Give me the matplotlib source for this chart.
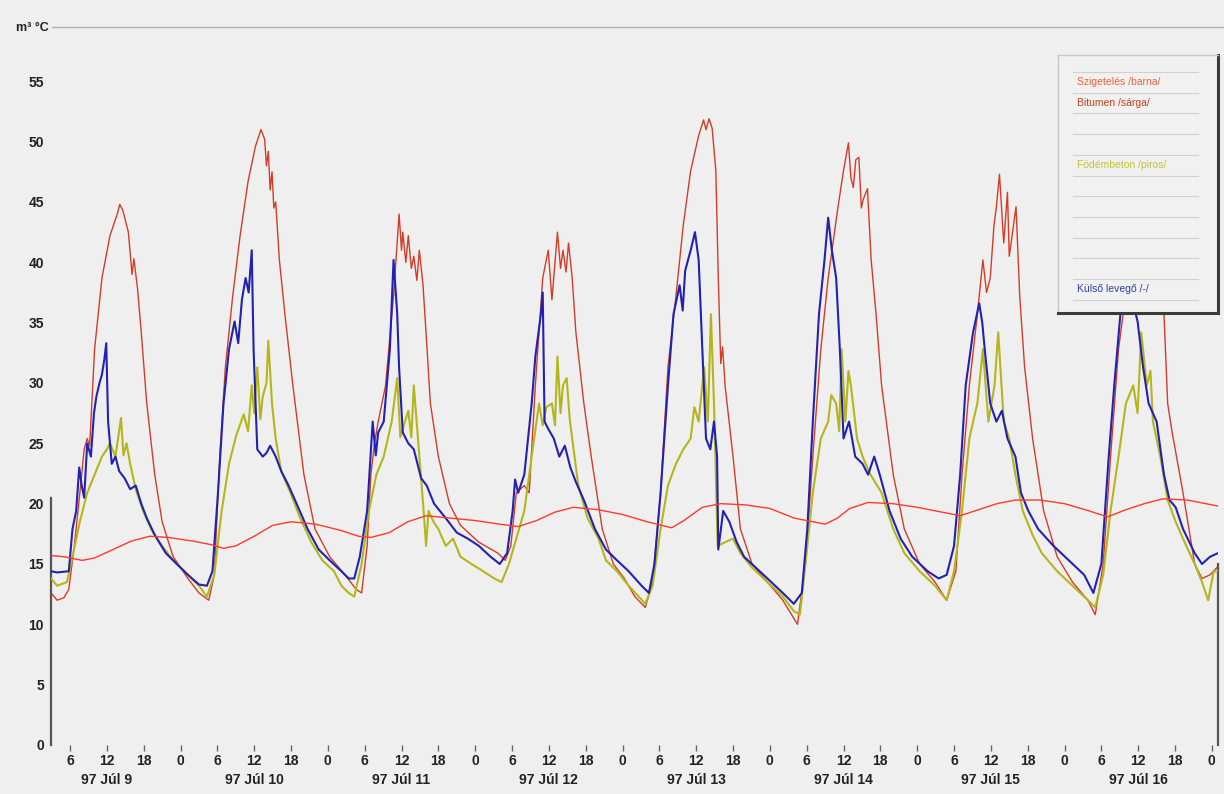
#!/usr/bin/env python3
"""
Roof temperature log, 97 Júl 9 - 97 Júl 16
"""

import matplotlib
matplotlib.use('Agg')
import matplotlib.pyplot as plt
import matplotlib.transforms as mtransforms
from matplotlib.lines import Line2D

plt.rcParams['font.family'] = ['Liberation Sans', 'DejaVu Sans']

# hours counted from 97 Júl 9 0:00
szig_t = [2.9, 5, 8, 10, 13, 16, 19, 22, 26, 29, 31, 33, 36, 39, 42, 46, 50, 53, 55, 58,
          61, 64, 68, 72, 76, 79, 82, 85, 88, 92, 96, 100, 104, 106, 109, 112, 116, 120,
          124, 129, 131, 133, 136, 140, 144, 148, 151, 154, 157, 160, 164, 168, 172, 175,
          178, 181, 184, 188, 193]
szig_v = [15.7, 15.6, 15.3, 15.5, 16.2, 16.9, 17.3, 17.2, 16.9, 16.6, 16.3, 16.5, 17.3,
          18.2, 18.5, 18.3, 17.8, 17.3, 17.2, 17.6, 18.5, 19.0, 18.8, 18.6, 18.3, 18.1,
          18.6, 19.3, 19.7, 19.5, 19.1, 18.5, 18.0, 18.6, 19.7, 20.0, 19.9, 19.6, 18.8,
          18.3, 18.8, 19.6, 20.1, 20.0, 19.7, 19.3, 19.0, 19.5, 20.0, 20.3, 20.3, 20.0,
          19.4, 18.9, 19.5, 20.0, 20.4, 20.3, 19.8]

bit_t = [2.9, 3.9, 5.0, 5.8, 6.7, 7.6, 8.3, 8.8, 9.2, 10.0, 11.2, 12.5, 13.7, 14.1, 14.6,
         15.5, 16.1, 16.4, 17.0, 17.6, 18.5, 19.8, 21.0, 22.8, 25.2, 27.0, 28.6, 29.5,
         30.4, 31.3, 32.5, 33.7, 35.0, 36.2, 37.1, 37.7, 38.0, 38.3, 38.6, 38.9, 39.2,
         39.5, 40.1, 41.0, 42.3, 44.1, 45.9, 48.3, 50.8, 52.6, 53.5, 54.4, 55.0, 55.6,
         56.2, 57.4, 58.7, 59.6, 60.0, 60.2, 60.7, 61.1, 61.6, 62.0, 62.5, 62.9, 63.5,
         64.1, 64.7, 66.0, 67.8, 69.6, 72.6, 75.7, 76.9, 77.8, 78.7, 80.0, 80.8, 81.8,
         83.0, 83.9, 84.5, 85.0, 85.4, 85.9, 86.3, 86.8, 87.2, 87.8, 88.4, 89.7, 90.9,
         92.7, 94.5, 96.3, 98.0, 99.7, 100.9, 102.2, 103.4, 104.7, 105.9, 107.1, 108.4,
         109.2, 109.6, 110.1, 110.6, 111.2, 111.6, 112.0, 112.3, 112.7, 114.0, 115.2,
         117.1, 119.6, 122.1, 124.5, 125.8, 127.0, 128.3, 129.5, 131.1, 132.0, 132.8,
         133.2, 133.6, 134.0, 134.5, 134.9, 135.2, 135.9, 136.5, 137.3, 138.2, 140.1,
         141.9, 144.4, 146.9, 148.8, 150.3, 151.3, 152.5, 153.8, 154.7, 155.3, 155.9,
         156.5, 156.9, 157.4, 158.1, 158.7, 159.0, 159.4, 160.1, 160.7, 161.5, 162.8,
         164.6, 166.8, 169.3, 171.8, 173.0, 174.3, 175.5, 176.8, 178.0, 179.0, 180.0,
         181.0, 182.0, 183.0, 184.2, 184.8, 185.5, 187.3, 189.2, 190.4, 191.7, 193.0]
bit_v = [12.6, 12.0, 12.2, 12.9, 16.5, 20.9, 24.5, 25.4, 24.8, 32.8, 38.7, 42.2, 44.0,
         44.8, 44.3, 42.5, 39.0, 40.3, 37.8, 34.2, 28.3, 22.4, 18.5, 15.6, 13.8, 12.6,
         12.0, 14.1, 23.9, 31.3, 37.2, 42.2, 46.7, 49.6, 51.0, 50.2, 48.0, 49.2, 46.0,
         47.5, 44.5, 45.0, 40.2, 35.7, 29.8, 22.4, 17.9, 15.6, 14.1, 12.9, 12.6, 16.5,
         22.4, 25.0, 26.8, 29.8, 37.2, 44.0, 41.0, 42.5, 40.0, 42.2, 39.5, 40.5, 38.5,
         41.0, 38.1, 33.3, 28.3, 23.9, 20.0, 18.2, 16.8, 15.9, 15.3, 16.5, 20.9, 21.5,
         20.9, 29.8, 38.7, 41.0, 36.9, 40.0, 42.5, 39.5, 41.0, 39.2, 41.6, 38.7, 34.2,
         28.3, 23.9, 17.9, 15.0, 13.8, 12.3, 11.4, 13.5, 20.9, 31.3, 37.2, 43.1, 47.6,
         50.5, 51.8, 51.0, 51.9, 51.1, 47.6, 38.7, 31.6, 33.0, 29.8, 23.9, 17.9, 15.0,
         13.5, 12.0, 10.0, 15.0, 23.9, 32.8, 38.7, 44.6, 47.6, 49.9, 47.0, 46.2, 48.5,
         48.7, 44.5, 45.2, 46.1, 40.2, 35.7, 29.8, 22.4, 17.9, 15.0, 13.5, 12.0, 14.4,
         22.4, 29.8, 35.7, 40.2, 37.5, 38.7, 43.0, 44.6, 47.3, 41.6, 45.8, 40.5, 42.0,
         44.6, 37.2, 31.3, 25.4, 19.4, 15.6, 13.5, 12.0, 10.8, 15.0, 23.9, 32.8, 37.5,
         41.0, 43.5, 45.0, 44.0, 41.0, 35.7, 28.3, 26.0, 20.9, 15.0, 13.8, 14.1, 14.8]

fod_t = [2.9, 3.9, 5.5, 6.4, 7.6, 8.8, 10.0, 11.2, 12.0, 12.5, 13.4, 14.3, 14.7, 15.2,
         15.8, 16.7, 17.9, 19.2, 21.0, 22.8, 25.2, 27.0, 28.3, 29.5, 30.7, 31.9, 33.1,
         34.3, 35.0, 35.6, 36.0, 36.5, 37.0, 37.4, 38.0, 38.3, 38.9, 39.5, 40.4, 41.9,
         43.5, 45.3, 47.1, 49.0, 50.2, 51.4, 52.3, 53.5, 54.7, 55.9, 57.1, 58.4, 59.3,
         59.8, 60.2, 61.1, 61.6, 62.0, 62.9, 63.6, 64.0, 64.4, 65.2, 66.0, 67.2, 68.4,
         69.6, 71.4, 73.3, 75.1, 76.3, 77.5, 78.7, 80.0, 81.2, 82.4, 83.0, 83.6, 84.5,
         85.0, 85.4, 85.9, 86.3, 86.9, 87.4, 87.8, 88.8, 90.3, 92.1, 93.3, 95.1, 97.0,
         99.7, 100.9, 102.2, 103.4, 104.7, 105.9, 107.1, 107.7, 108.4, 109.3, 109.9,
         110.4, 110.9, 111.5, 112.7, 114.0, 115.2, 117.1, 119.6, 122.1, 123.9, 124.9,
         125.8, 127.0, 128.3, 129.5, 130.0, 130.8, 131.3, 131.7, 132.3, 132.8, 133.2,
         134.2, 135.1, 136.4, 138.2, 140.1, 141.9, 144.4, 146.9, 148.8, 150.0, 151.3,
         152.5, 153.2, 153.8, 154.7, 155.6, 156.6, 157.2, 158.1, 159.0, 160.0, 161.2,
         162.8, 164.3, 166.8, 169.3, 171.8, 173.0, 174.3, 175.5, 176.8, 178.0, 179.2,
         179.9, 180.5, 181.4, 182.0, 182.4, 183.6, 184.8, 186.1, 187.3, 189.2, 190.4,
         191.4, 192.3, 193.0]
fod_v = [13.8, 13.2, 13.5, 15.6, 18.5, 20.9, 22.4, 23.9, 24.5, 25.0, 23.9, 27.1, 24.0,
         25.0, 23.3, 21.2, 19.4, 17.9, 16.5, 15.3, 14.1, 13.2, 12.3, 14.1, 19.4, 23.3,
         25.7, 27.4, 26.0, 29.8, 27.5, 31.3, 27.0, 28.9, 30.0, 33.5, 28.3, 25.4, 22.7,
         20.9, 18.8, 16.8, 15.3, 14.4, 13.2, 12.6, 12.3, 15.0, 19.4, 22.4, 23.9, 26.8,
         30.4, 25.5, 26.2, 27.7, 25.5, 29.8, 23.9, 19.4, 16.5, 19.4, 18.5, 17.9, 16.5,
         17.1, 15.6, 15.0, 14.4, 13.8, 13.5, 15.0, 17.1, 19.4, 23.9, 28.3, 26.5, 28.0,
         28.3, 26.5, 32.2, 27.5, 29.8, 30.4, 27.0, 25.4, 21.5, 18.8, 17.1, 15.3, 14.4,
         13.2, 11.7, 13.2, 17.9, 21.5, 23.3, 24.5, 25.4, 28.0, 26.8, 31.3, 26.8, 35.7,
         28.3, 16.5, 16.8, 17.1, 15.9, 14.7, 13.5, 12.3, 11.1, 10.8, 15.0, 20.9, 25.4,
         26.8, 29.0, 28.3, 26.0, 32.8, 26.8, 31.0, 29.8, 25.4, 23.9, 22.4, 20.9, 17.9,
         15.9, 14.4, 13.2, 12.0, 14.4, 19.4, 25.4, 27.0, 28.3, 32.8, 26.8, 29.8, 34.2,
         26.8, 25.4, 22.4, 19.4, 17.4, 15.9, 14.4, 13.2, 12.0, 11.4, 14.1, 19.4, 23.9,
         28.3, 29.8, 27.5, 34.2, 29.8, 31.0, 26.8, 23.9, 20.3, 18.5, 17.1, 15.0, 13.5,
         12.0, 14.4, 14.4]

kul_t = [2.9, 3.9, 5.8, 6.4, 7.0, 7.5, 7.9, 8.3, 8.8, 9.4, 9.9, 10.3, 10.8, 11.2, 11.6,
         11.9, 12.2, 12.8, 13.4, 14.0, 14.9, 15.8, 16.7, 17.6, 18.5, 19.8, 21.6, 23.4,
         25.2, 27.0, 28.3, 29.2, 30.1, 31.0, 31.9, 32.8, 33.4, 34.0, 34.6, 35.1, 35.6,
         35.9, 36.5, 37.4, 38.0, 38.6, 39.5, 40.4, 41.6, 42.9, 44.7, 46.5, 48.3, 50.2,
         51.4, 52.3, 53.2, 54.4, 54.9, 55.3, 55.8, 56.2, 57.1, 58.1, 58.7, 59.3, 59.6,
         60.2, 61.1, 62.0, 63.2, 64.1, 65.3, 67.2, 69.0, 70.8, 72.6, 74.5, 76.0, 77.2,
         78.1, 78.5, 79.0, 80.0, 81.2, 81.8, 82.7, 83.0, 83.3, 83.9, 84.8, 85.7, 86.6,
         87.5, 88.4, 89.7, 91.5, 93.3, 95.1, 97.0, 99.1, 100.3, 101.2, 102.2, 103.4,
         104.3, 105.3, 105.8, 106.2, 107.1, 107.8, 108.4, 109.0, 109.6, 110.3, 110.9,
         111.4, 111.6, 112.4, 113.4, 114.6, 115.8, 117.7, 119.6, 122.1, 123.9, 125.2,
         126.1, 127.0, 128.0, 128.9, 129.5, 130.1, 130.8, 131.4, 132.0, 132.9, 133.9,
         135.1, 136.0, 137.0, 137.9, 139.5, 141.3, 143.2, 145.7, 147.5, 148.8, 150.0,
         151.0, 151.9, 153.1, 154.1, 154.6, 155.0, 155.9, 156.9, 157.8, 158.7, 160.0,
         160.9, 162.1, 163.7, 166.2, 168.7, 171.2, 172.7, 174.0, 175.2, 176.1, 177.1,
         178.0, 179.0, 179.9, 180.8, 181.7, 183.0, 184.2, 185.1, 186.1, 187.3, 189.2,
         190.4, 191.7, 193.0]
kul_v = [14.4, 14.3, 14.4, 17.9, 19.4, 23.0, 21.5, 20.5, 25.0, 23.9, 27.5, 28.9, 30.0,
         30.7, 32.0, 33.3, 26.8, 23.3, 23.9, 22.7, 22.1, 21.2, 21.5, 20.0, 18.8, 17.4,
         15.9, 15.0, 14.1, 13.3, 13.2, 14.4, 20.9, 28.3, 32.8, 35.1, 33.3, 36.9, 38.7,
         37.5, 41.0, 32.8, 24.5, 23.9, 24.2, 24.8, 23.9, 22.7, 21.5, 20.0, 17.9, 16.2,
         15.3, 14.4, 13.8, 13.8, 15.6, 19.4, 23.5, 26.8, 24.0, 25.9, 26.8, 32.8, 40.2,
         35.7, 31.3, 25.9, 25.0, 24.5, 22.1, 21.5, 20.0, 18.8, 17.6, 17.1, 16.5, 15.6,
         15.0, 15.9, 19.4, 22.0, 20.9, 22.4, 28.3, 32.2, 35.7, 37.5, 26.8, 26.2, 25.4,
         23.9, 24.8, 23.0, 21.8, 20.3, 17.9, 16.2, 15.3, 14.4, 13.2, 12.6, 15.0, 20.9,
         29.8, 35.7, 38.1, 36.0, 39.3, 41.0, 42.5, 40.2, 32.8, 25.4, 24.5, 26.8, 23.9,
         16.2, 19.4, 18.5, 16.8, 15.6, 14.7, 13.8, 12.6, 11.7, 12.6, 17.9, 26.8, 35.7,
         40.2, 43.7, 41.0, 38.7, 32.8, 25.4, 26.8, 23.9, 23.3, 22.4, 23.9, 22.4, 19.4,
         17.1, 15.6, 14.4, 13.8, 14.1, 16.5, 22.4, 29.8, 34.2, 36.6, 35.0, 32.8, 28.3,
         26.8, 27.7, 25.4, 23.9, 20.9, 19.4, 17.9, 16.5, 15.3, 14.1, 12.6, 15.0, 23.9,
         29.8, 35.7, 38.0, 37.0, 35.1, 31.3, 28.3, 26.8, 22.4, 20.3, 19.7, 17.9, 15.9,
         15.0, 15.6, 15.9]

hour_ticks = list(range(6, 193, 6))
day_labels = ['97 Júl 9', '97 Júl 10', '97 Júl 11', '97 Júl 12',
              '97 Júl 13', '97 Júl 14', '97 Júl 15', '97 Júl 16']
legend_rows = ['Szigetelés /barna/', 'Bitumen /sárga/', '', '', 'Födémbeton /piros/',
               '', '', '', '', '', 'Külső levegő /-/']
legend_colors = ['#f0603c', '#c0401c', None, None, '#c2c232',
                 None, None, None, None, None, '#3040a8']

W, H = 1224, 794
bg = '#efefef'
fig = plt.figure(figsize=(W / 100, H / 100), dpi=100, facecolor=bg)
ax = fig.add_axes([51 / W, 49 / H, (1218 - 51) / W, (745 - 27) / H], facecolor=bg)

ax.plot(bit_t, bit_v, color='#d43c28', lw=1.0, zorder=2)
ax.plot(fod_t, fod_v, color='#b4b61c', lw=1.5, zorder=3)
ax.plot(kul_t, kul_v, color='#2222b0', lw=1.5, zorder=4)
ax.plot(szig_t, szig_v, color='#ff3a2a', lw=1.0, zorder=5)

ax.set_xlim(2.9, 193.0)
ax.set_ylim(0, 59.5)

ax.set_yticks(range(0, 56, 5))
ax.tick_params(axis='y', length=0, pad=5, labelsize=10)
ax.set_xticks(hour_ticks)
ax.set_xticklabels([str(h % 24) for h in hour_ticks])
ax.tick_params(axis='x', length=4, width=1, color='#666666', pad=2.5, labelsize=10)
for lab in ax.get_xticklabels() + ax.get_yticklabels():
    lab.set_fontweight('bold')
    lab.set_color('#222222')

ax.spines['bottom'].set_visible(False)
ax.spines['top'].set_visible(False)
ax.spines['left'].set_bounds(0, 20.5)
ax.spines['left'].set_color('#555555')
ax.spines['left'].set_linewidth(1.6)
ax.spines['right'].set_bounds(0, 15)
ax.spines['right'].set_color('#555555')
ax.spines['right'].set_linewidth(1.6)

# thin frame line across the top, running to the picture edge
fig.add_artist(Line2D([52 / W, 1.0], [1 - 27 / H, 1 - 27 / H],
                      color='#b0b0b0', lw=1.0))

# date labels centred at noon of each day
trans = mtransforms.blended_transform_factory(ax.transData, ax.transAxes)
for i, d in enumerate(day_labels):
    ax.text(12 + 24 * i, -0.049, d, transform=trans, ha='center', va='center',
            fontsize=10, fontweight='bold', color='#222222')

fig.text(49 / W, 1 - 28 / H, 'm³ °C', ha='right', va='center',
         fontsize=9, fontweight='bold', color='#222222')

# legend box (upper right)
lax = fig.add_axes([1058 / W, 1 - 313 / H, 160 / W, 258 / H], facecolor='#f1f1f1')
lax.set_xlim(1058, 1218)
lax.set_ylim(313, 55)
lax.set_xticks([])
lax.set_yticks([])
for s in ['left', 'top']:
    lax.spines[s].set_color('#c8c8c8')
    lax.spines[s].set_linewidth(1.0)
for s in ['right', 'bottom']:
    lax.spines[s].set_color('#3a3a3a')
    lax.spines[s].set_linewidth(2.2)

row_y0 = 72
row_h = 20.7
for i, (lab, col) in enumerate(zip(legend_rows, legend_colors)):
    top = row_y0 + i * row_h
    lax.plot([1073, 1198], [top, top], color='#d0d0d0', lw=0.8)
    if lab:
        lax.text(1077, top + row_h / 2, lab, color=col, fontsize=7.5,
                 ha='left', va='center')
lax.plot([1073, 1198], [row_y0 + len(legend_rows) * row_h] * 2, color='#d0d0d0', lw=0.8)

fig.savefig('out.png', dpi=100, facecolor=bg)
